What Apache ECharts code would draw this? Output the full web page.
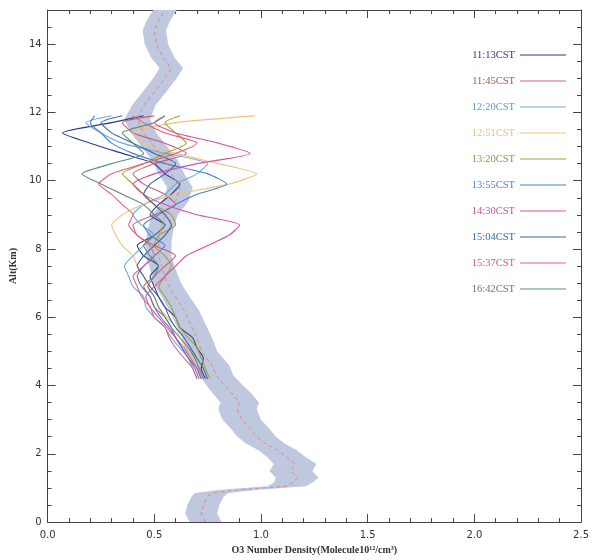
<!DOCTYPE html>
<html><head><meta charset="utf-8">
<script src="https://cdn.jsdelivr.net/npm/echarts@6/dist/echarts.min.js"></script>
<style>html,body{margin:0;padding:0;background:#fff}#c{width:592px;height:560px}</style>
</head><body><div id="c"></div>
<script>
// Mean profile (km) with standard deviation band
const meanAlt = [0.0,0.25,0.5,0.75,0.85,0.95,1.05,1.15,1.3,1.5,1.7,1.9,2.1,2.3,2.5,2.8,3.0,3.3,3.5,3.8,4.0,4.3,4.6,5.0,5.4,5.8,6.2,6.6,7.0,7.4,7.8,8.2,8.6,9.0,9.4,9.8,10.2,10.6,11.0,11.4,11.8,12.2,12.6,13.0,13.3,13.6,14.0,14.4,14.7,15.0];
const meanVal = [0.74,0.72,0.73,0.75,0.77,0.90,1.12,1.15,1.17,1.14,1.16,1.12,1.08,1.02,0.98,0.94,0.91,0.89,0.90,0.86,0.83,0.79,0.77,0.72,0.70,0.67,0.64,0.60,0.56,0.54,0.52,0.52,0.53,0.55,0.60,0.62,0.58,0.55,0.50,0.45,0.42,0.45,0.50,0.55,0.58,0.54,0.51,0.50,0.52,0.55];
const meanSd  = [0.075,0.075,0.075,0.075,0.08,0.09,0.09,0.09,0.10,0.10,0.10,0.09,0.09,0.09,0.09,0.09,0.09,0.09,0.09,0.09,0.085,0.08,0.08,0.075,0.07,0.07,0.07,0.065,0.065,0.06,0.06,0.06,0.06,0.06,0.06,0.06,0.06,0.06,0.06,0.06,0.06,0.055,0.055,0.055,0.055,0.055,0.055,0.055,0.055,0.055];

// Individual sonde profiles
const profAlt = [4.2,4.5,4.8,5.1,5.4,5.7,6.0,6.3,6.6,6.9,7.2,7.5,7.8,8.1,8.4,8.7,9.0,9.3,9.6,9.9,10.2,10.5,10.8,11.1,11.4,11.7,11.9];
const names = ['11:13CST','11:45CST','12:20CST','12:51CST','13:20CST','13:55CST','14:30CST','15:04CST','15:37CST','16:42CST'];
const p1113 = [0.74,0.72,0.73,0.70,0.68,0.62,0.60,0.55,0.52,0.50,0.48,0.52,0.45,0.42,0.50,0.55,0.48,0.52,0.58,0.62,0.55,0.50,0.35,0.20,0.07,0.30,0.45];
const p1145 = [0.72,0.70,0.66,0.63,0.60,0.58,0.55,0.50,0.48,0.45,0.50,0.55,0.60,0.50,0.42,0.40,0.50,0.60,0.55,0.45,0.40,0.50,0.65,0.55,0.40,0.35,0.50];
const p1220 = [0.70,0.68,0.66,0.62,0.58,0.55,0.50,0.46,0.45,0.40,0.38,0.36,0.40,0.45,0.50,0.44,0.40,0.45,0.55,0.60,0.70,0.75,0.55,0.35,0.25,0.18,0.30];
const p1251 = [0.73,0.71,0.68,0.65,0.62,0.60,0.56,0.52,0.50,0.47,0.45,0.42,0.40,0.35,0.32,0.30,0.35,0.45,0.60,0.85,0.98,0.80,0.60,0.45,0.40,0.60,0.97];
const p1320 = [0.76,0.74,0.72,0.70,0.66,0.62,0.60,0.58,0.55,0.52,0.55,0.58,0.55,0.50,0.52,0.60,0.58,0.50,0.45,0.40,0.35,0.45,0.55,0.65,0.60,0.55,0.62];
const p1355 = [0.71,0.69,0.66,0.63,0.60,0.57,0.53,0.50,0.48,0.44,0.42,0.45,0.50,0.55,0.48,0.45,0.52,0.60,0.70,0.84,0.75,0.55,0.40,0.30,0.25,0.20,0.22];
const p1430 = [0.72,0.70,0.67,0.64,0.60,0.56,0.52,0.48,0.46,0.50,0.55,0.60,0.65,0.75,0.85,0.90,0.70,0.55,0.45,0.40,0.50,0.70,0.95,0.80,0.60,0.50,0.55];
const p1504 = [0.75,0.73,0.70,0.67,0.64,0.60,0.57,0.55,0.52,0.48,0.45,0.42,0.45,0.50,0.55,0.58,0.55,0.50,0.45,0.48,0.55,0.60,0.50,0.40,0.30,0.25,0.35];
const p1537 = [0.70,0.68,0.64,0.60,0.57,0.55,0.50,0.48,0.44,0.42,0.40,0.45,0.50,0.48,0.42,0.38,0.40,0.35,0.30,0.24,0.30,0.45,0.60,0.70,0.55,0.45,0.40];
const p1642 = [0.73,0.71,0.69,0.66,0.62,0.58,0.55,0.52,0.50,0.47,0.50,0.52,0.48,0.45,0.50,0.55,0.50,0.45,0.35,0.25,0.16,0.30,0.45,0.40,0.35,0.50,0.55];
const profiles = [p1113,p1145,p1220,p1251,p1320,p1355,p1430,p1504,p1537,p1642];
const lineColors = ['#2b3990','#c8607a','#6aa8e0','#f2c27a','#a8a030','#4a7fd0','#d84fa8','#3a62a8','#e8607a','#5f9070'];
const textColors = ['#2b3990','#a05a48','#5a9ad8','#f0c080','#909050','#4f7fd0','#d0509a','#3a6aa8','#e0507a','#5a8070'];

const xTicks = {min:0, max:2.5, interval:0.5};
const yTicks = {min:0, max:15, interval:2};

const chart = echarts.init(document.getElementById('c'), null, {renderer:'canvas'});
const axisCol = '#444';
function xAx(pos, show){
  return {type:'value', position:pos, min:xTicks.min, max:xTicks.max, interval:xTicks.interval,
    axisLine:{show:true, onZero:false, lineStyle:{color:axisCol, width:1}},
    axisTick:{show:true, inside:true, length:8, lineStyle:{color:axisCol}},
    minorTick:{show:true, splitNumber:5, length:4, lineStyle:{color:axisCol}},
    splitLine:{show:false}, minorSplitLine:{show:false},
    axisLabel:{show:show, color:'#333', fontSize:10, fontFamily:'DejaVu Sans', margin:8, formatter:v=>v.toFixed(1)},
    name: show ? 'O3 Number Density(Molecule10¹²/cm³)' : '', nameLocation:'middle', nameGap:22,
    nameTextStyle:{color:'#333', fontSize:10, fontFamily:'Liberation Serif', fontWeight:'bold'}};
}
function yAx(pos, show){
  return {type:'value', position:pos, min:yTicks.min, max:yTicks.max, interval:yTicks.interval,
    axisLine:{show:true, onZero:false, lineStyle:{color:axisCol, width:1}},
    axisTick:{show:true, inside:true, length:8, lineStyle:{color:axisCol}},
    minorTick:{show:true, splitNumber:4, length:4, lineStyle:{color:axisCol}},
    splitLine:{show:false}, minorSplitLine:{show:false},
    axisLabel:{show:show, color:'#333', fontSize:10, fontFamily:'DejaVu Sans', margin:6, showMaxLabel:false},
    name: show ? 'Alt(Km)' : '', nameLocation:'middle', nameGap:26, nameRotate:90,
    nameTextStyle:{color:'#333', fontSize:10, fontFamily:'Liberation Serif', fontWeight:'bold'}};
}

const series = [];
series.push({
  type:'custom', xAxisIndex:0, yAxisIndex:0, silent:true, z:1,
  data:[0],
  renderItem:function(params, api){
    const left = [], right = [];
    for(let i=0;i<meanAlt.length;i++){
      left.push(api.coord([meanVal[i]-meanSd[i], meanAlt[i]]));
      right.push(api.coord([meanVal[i]+meanSd[i], meanAlt[i]]));
    }
    const pts = left.concat(right.reverse());
    return {type:'polygon', shape:{points:pts}, style:{fill:'#bfc8de', stroke:null}};
  }
});
series.push({
  type:'line', xAxisIndex:0, yAxisIndex:0, silent:true, z:3, showSymbol:false,
  data: meanAlt.map((a,i)=>[meanVal[i], a]),
  lineStyle:{color:'#d88a8a', width:1, type:[4,3]}
});
profiles.forEach((p, k)=>{
  series.push({
    name:names[k], type:'line', xAxisIndex:0, yAxisIndex:0, z:2, showSymbol:false, smooth:0.2,
    data: profAlt.map((a,i)=>[p[i], a]),
    lineStyle:{color:lineColors[k], width:1.1}, itemStyle:{color:lineColors[k]}
  });
});

chart.setOption({
  animation:false,
  backgroundColor:'#ffffff',
  grid:{left:44, right:9, top:10, bottom:34, containLabel:false},
  xAxis:[xAx('bottom', true), xAx('top', false)],
  yAxis:[yAx('left', true), yAx('right', false)],
  legend:{
    orient:'vertical', left:448, top:44, align:'right', itemGap:14,
    icon:'rect', itemWidth:46, itemHeight:1.2,
    data: names.map((n,k)=>({name:n, textStyle:{color:textColors[k]}})),
    textStyle:{fontSize:10.5, fontFamily:'Liberation Serif', width:62, lineHeight:12}
  },
  series: series
});
</script></body></html>
